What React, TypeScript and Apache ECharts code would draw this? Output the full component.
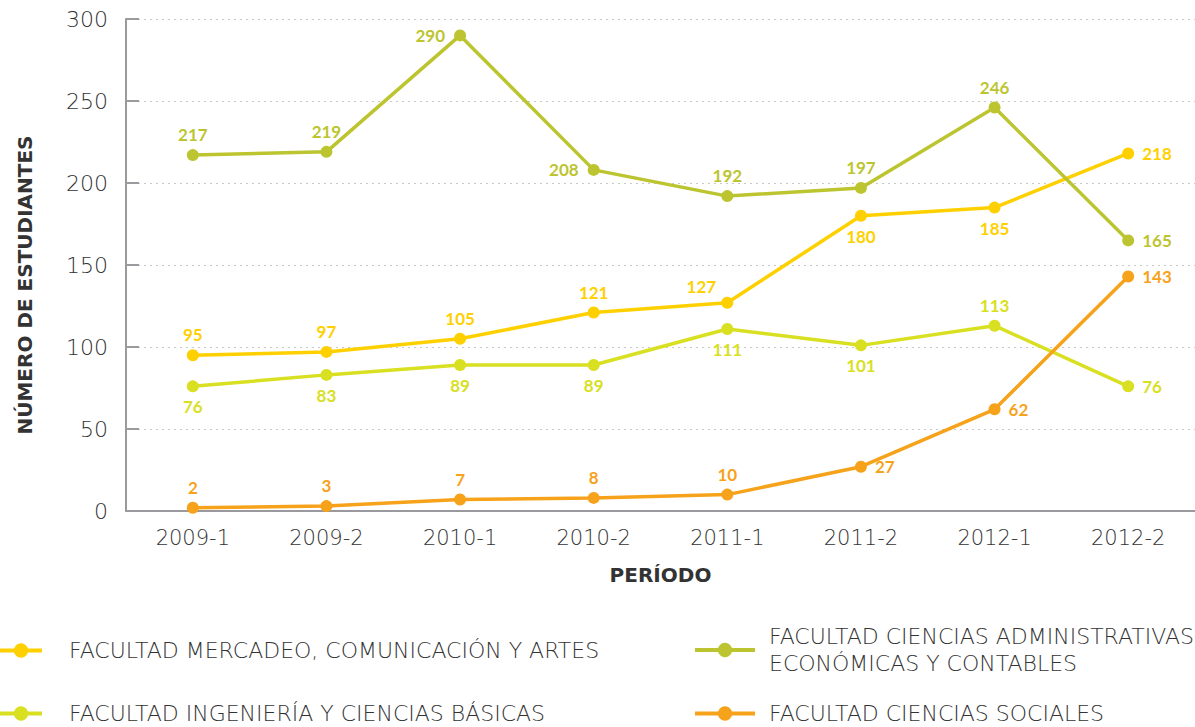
import React, { useEffect, useRef } from "react";
import * as echarts from "echarts";

const periods = ["2009-1", "2009-2", "2010-1", "2010-2", "2011-1", "2011-2", "2012-1", "2012-2"];
const seriesNames = [
  "FACULTAD MERCADEO, COMUNICACIÓN Y ARTES",
  "FACULTAD CIENCIAS ADMINISTRATIVAS ECONÓMICAS Y CONTABLES",
  "FACULTAD INGENIERÍA Y CIENCIAS BÁSICAS",
  "FACULTAD CIENCIAS SOCIALES",
];
const mercadeo = [95, 97, 105, 121, 127, 180, 185, 218];
const administrativas = [217, 219, 290, 208, 192, 197, 246, 165];
const ingenieria = [76, 83, 89, 89, 111, 101, 113, 76];
const sociales = [2, 3, 7, 8, 10, 27, 62, 143];
const yTicks = [0, 50, 100, 150, 200, 250, 300];

const colors = ["#FFD000", "#BCC530", "#D8E021", "#F7A21B"];

// label placement per point (layout only)
const posMercadeo = ["top", "top", "top", "top", "topleft", "bottom", "bottom", "right"];
const posAdmin = ["top", "top", "left", "left", "top", "top", "top", "right"];
const posIng = ["bottom", "bottom", "bottom", "bottom", "bottom", "bottom", "top", "right"];
const posSoc = ["top", "top", "top", "top", "top", "right", "right", "right"];

const LIGHT = "DejaVu Sans";

function build(values: number[], pos: string[]) {
  return values.map((v, i) => {
    const p = pos[i];
    const label: any = { position: p === "topleft" ? "top" : p };
    if (p === "topleft") label.offset = [-26, 4];
    if (p === "right") label.distance = 8;
    if (p === "left") label.distance = 9;
    return { value: v, label };
  });
}

export default function App() {
  const ref = useRef<HTMLDivElement>(null);
  useEffect(() => {
    document.body.style.margin = "0";
    const chart = echarts.init(ref.current!, null, { renderer: "svg" });
    const dataSets = [
      build(mercadeo, posMercadeo),
      build(administrativas, posAdmin),
      build(ingenieria, posIng),
      build(sociales, posSoc),
    ];
    const legendCommon = (pad: number) => ({
      orient: "vertical",
      padding: 0,
      itemHeight: 18,
      lineStyle: { width: 4 },
      textStyle: {
        fontFamily: LIGHT,
        fontWeight: 200,
        fontSize: 22,
        color: "#333",
        lineHeight: 27,
        padding: [0, 0, 0, pad],
      },
      formatter: (n: string) =>
        n === seriesNames[1] ? "FACULTAD CIENCIAS ADMINISTRATIVAS\nECONÓMICAS Y CONTABLES" : n,
    });
    chart.setOption({
      animation: false,
      color: colors,
      grid: { left: 126, right: 0, top: 19, bottom: 216, containLabel: false },
      xAxis: {
        type: "category",
        data: periods,
        boundaryGap: true,
        axisLine: { lineStyle: { color: "#9a9a9e", width: 2 } },
        axisTick: { inside: true, length: 7, lineStyle: { color: "#9a9a9e", width: 2 } },
        axisLabel: { fontFamily: LIGHT, fontWeight: 200, fontSize: 21, color: "#333", margin: 16 },
        name: "PERÍODO",
        nameLocation: "middle",
        nameGap: 54,
        nameTextStyle: { fontFamily: "DejaVu Sans", fontWeight: "bold", fontSize: 20, color: "#333" },
      },
      yAxis: {
        type: "value",
        min: yTicks[0],
        max: yTicks[yTicks.length - 1],
        interval: 50,
        axisLine: { show: true, lineStyle: { color: "#9a9a9e", width: 2 } },
        axisTick: { show: true, inside: true, length: 13, lineStyle: { color: "#9a9a9e", width: 2 } },
        axisLabel: { fontFamily: LIGHT, fontWeight: 200, fontSize: 22, color: "#333", margin: 18 },
        splitLine: { show: true, lineStyle: { color: "#c8c8c8", type: [2, 4], width: 1 } },
      },
      legend: [
        { ...legendCommon(22), left: -2, top: 637, itemWidth: 42, data: [seriesNames[0]] },
        { ...legendCommon(9), left: 693, top: 623, itemWidth: 60, data: [seriesNames[1]] },
        { ...legendCommon(22), left: -2, top: 700, itemWidth: 42, data: [seriesNames[2]] },
        { ...legendCommon(9), left: 693, top: 700, itemWidth: 60, data: [seriesNames[3]] },
      ],
      graphic: [
        {
          type: "text",
          x: 25,
          y: 285,
          rotation: Math.PI / 2,
          style: {
            text: "NÚMERO DE ESTUDIANTES",
            fontFamily: "DejaVu Sans",
            fontWeight: "bold",
            fontSize: 20,
            fill: "#333",
            textAlign: "center",
            textVerticalAlign: "middle",
          },
        },
      ],
      series: dataSets.map((d, i) => ({
        name: seriesNames[i],
        type: "line",
        data: d,
        symbol: "circle",
        symbolSize: 12,
        lineStyle: { width: 3.5, color: colors[i] },
        itemStyle: { color: colors[i] },
        label: {
          show: true,
          color: colors[i],
          fontFamily: "Lato",
          fontWeight: "bold",
          fontSize: 17,
          distance: 6,
        },
        z: [2, 3, 2, 4][i],
      })),
    });
    return () => chart.dispose();
  }, []);
  return <div ref={ref} style={{ width: 1195, height: 727 }} />;
}
